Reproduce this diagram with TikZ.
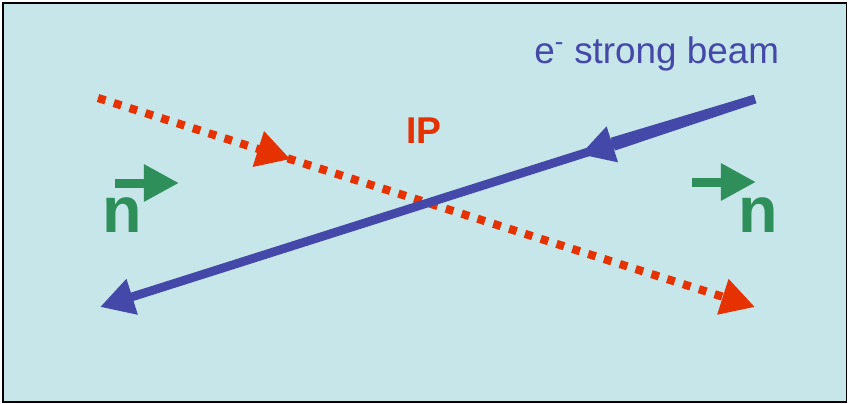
\documentclass[tikz,border=0pt]{standalone}
\usepackage{fontspec}
\setmainfont{Liberation Sans}
\usetikzlibrary{arrows.meta,decorations.markings,calc}
\definecolor{bgcyan}{RGB}{198,230,234}
\definecolor{beamblue}{RGB}{68,72,168}
\definecolor{beamred}{RGB}{229,50,0}
\definecolor{spingreen}{RGB}{46,143,90}
\tikzset{
  bigtip/.style={-{Triangle[length=24pt,width=25pt]}},
  ebeam/.style={draw=beamblue,line width=6.2pt,bigtip},
  pbeam/.style={draw=beamred,line width=5.8pt,dash pattern=on 5.6pt off 6.2pt,bigtip},
  midtip/.style={postaction={decorate},decoration={markings,
      mark=at position #1 with {\arrow{Triangle[length=24pt,width=25pt]}}}},
  spin/.style={draw=spingreen,line width=6.4pt,-{Triangle[length=25pt,width=25pt]}},
  spinlabel/.style={anchor=base,inner sep=0pt,text=spingreen,font=\bfseries\fontsize{46}{50}\selectfont}
}
\begin{document}
\begin{tikzpicture}[x=0.025cm,y=-0.025cm]
    \useasboundingbox (0,0) rectangle (849,403);
    \draw[line width=1.4pt,fill=bgcyan] (3.2,3.2) rectangle (846.5,401.7);
    \coordinate (pS) at (98,98);
    \coordinate (pE) at (755,307);
    \coordinate (eS) at (755,99);
    \coordinate (eE) at (100,307);
    \coordinate (eM) at ($(eS)!0.217!(eE)$);
    \draw[pbeam,midtip=0.293] (pS) -- (pE);
    \fill[beamblue] ($(eS)!3.1pt!90:(eE)$) -- ($(eM)!4.8pt!-90:(eS)$) -- ($(eM)!4.8pt!90:(eS)$) -- ($(eS)!3.1pt!-90:(eE)$) -- cycle;
    \draw[ebeam,midtip=0.267] (eS) -- (eE);
    \node[anchor=base west,inner sep=0pt,text=beamblue,font=\fontsize{26.2}{30}\selectfont] (elabel) at (534,63) {e\textsuperscript{-} strong beam};
    \node[anchor=base,inner sep=0pt,text=beamred,font=\bfseries\fontsize{26.5}{30}\selectfont] (ip) at (424,143) {IP};
    \coordinate (gL1) at (115,183);
    \coordinate (gL2) at (179,183);
    \coordinate (gR1) at (692,182);
    \coordinate (gR2) at (756,182);
    \draw[spin] (gL1) -- (gL2);
    \draw[spin] (gR1) -- (gR2);
    \node[spinlabel] (nL) at (122,232) {n};
    \node[spinlabel] (nR) at (758,232) {n};
\end{tikzpicture}
\end{document}
